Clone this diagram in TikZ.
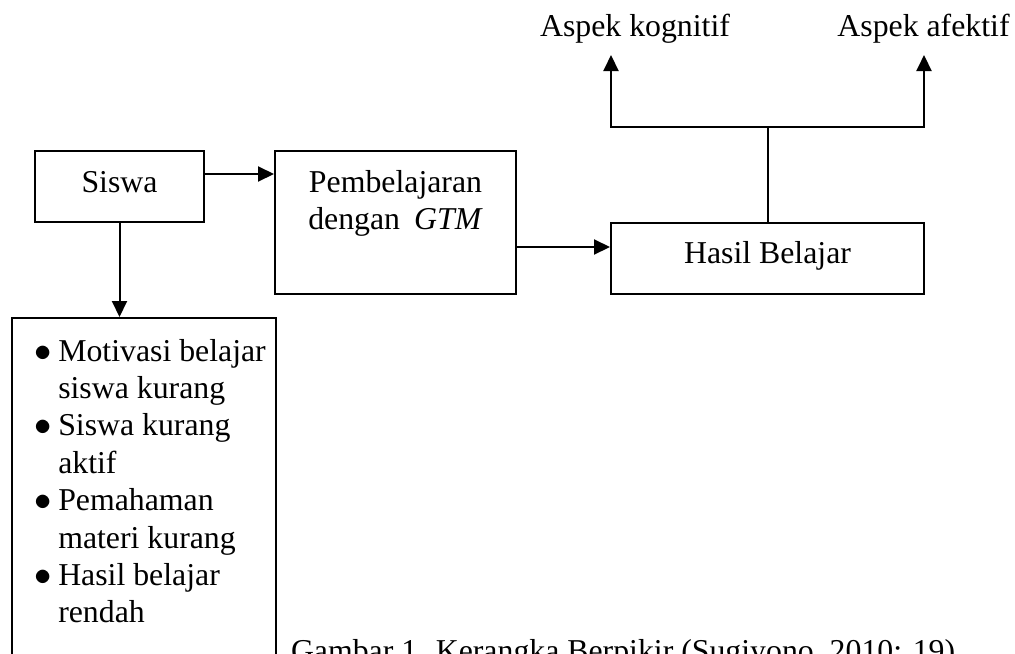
\documentclass[tikz,border=0pt]{standalone}
\usepackage{fontspec}
\setmainfont{Liberation Serif}
\usetikzlibrary{arrows.meta}

\tikzset{
  box/.style={draw, line width=1pt, inner sep=0pt},
  arr/.style={line width=1pt, -{Triangle[length=8pt,width=7.5pt]}},
  txt/.style={inner sep=0pt, font=\fontsize{15.9}{18.7}\selectfont},
}

\begin{document}
\begin{tikzpicture}[x=0.5pt, y=-0.5pt, line width=1pt]
  \useasboundingbox (0,0) rectangle (1015,653);
  \clip (0,0) rectangle (1015,653);

  \node[box, minimum width=84.5pt, minimum height=35.5pt] (siswa) at (119.5,186.5) {};
  \node[txt, anchor=base] (siswatxt) at (119.5,192) {Siswa};

  \node[box, minimum width=120.5pt, minimum height=71.5pt] (pemb) at (395.5,222.5) {};
  \node[txt, anchor=north, align=center] (pembtxt) at ([yshift=-9.5pt]pemb.north)
    {Pembelajaran\\dengan\hspace{.44em}\textit{GTM}};

  \node[box, minimum width=156.5pt, minimum height=35.5pt] (hasil) at (767.5,258.5) {};
  \node[txt, anchor=base] (hasiltxt) at (767.5,263) {Hasil Belajar};

  \node[box, minimum width=132pt, minimum height=191pt] (masalah) at (144,509) {};
  \node[txt, anchor=base west] (masalahtxt) at (33,361) {%
    \begin{tabular}[t]{@{}l@{\hspace{3.5pt}}l@{}}
      $\bullet$ & Motivasi belajar\\
                & siswa kurang\\
      $\bullet$ & Siswa kurang\\
                & aktif\\
      $\bullet$ & Pemahaman\\
                & materi kurang\\
      $\bullet$ & Hasil belajar\\
                & rendah
    \end{tabular}};

  \node[txt, anchor=base] (kognitif) at (635,36) {Aspek kognitif};
  \node[txt, anchor=base] (afektif) at (923.5,36) {Aspek afektif};
  \coordinate (kogtip) at (611,55);
  \coordinate (aftip) at (924,55);
  \coordinate (cabang) at (767.5,127);

  \node[txt, anchor=base west] (judul) at (290,661)
    {Gambar 1. Kerangka Berpikir (Sugiyono, 2010: 19)};

  \draw[arr] (siswa.east |- 0,174) -- (pemb.west |- 0,174);
  \draw[arr] (siswa.south) -- (siswa.south |- masalah.north);
  \draw[arr] (pemb.east |- 0,247) -- (hasil.west |- 0,247);
  \draw (hasil.north) -- (cabang);
  \draw[arr] (cabang) -| (kogtip);
  \draw[arr] (cabang) -| (aftip);
\end{tikzpicture}
\end{document}
